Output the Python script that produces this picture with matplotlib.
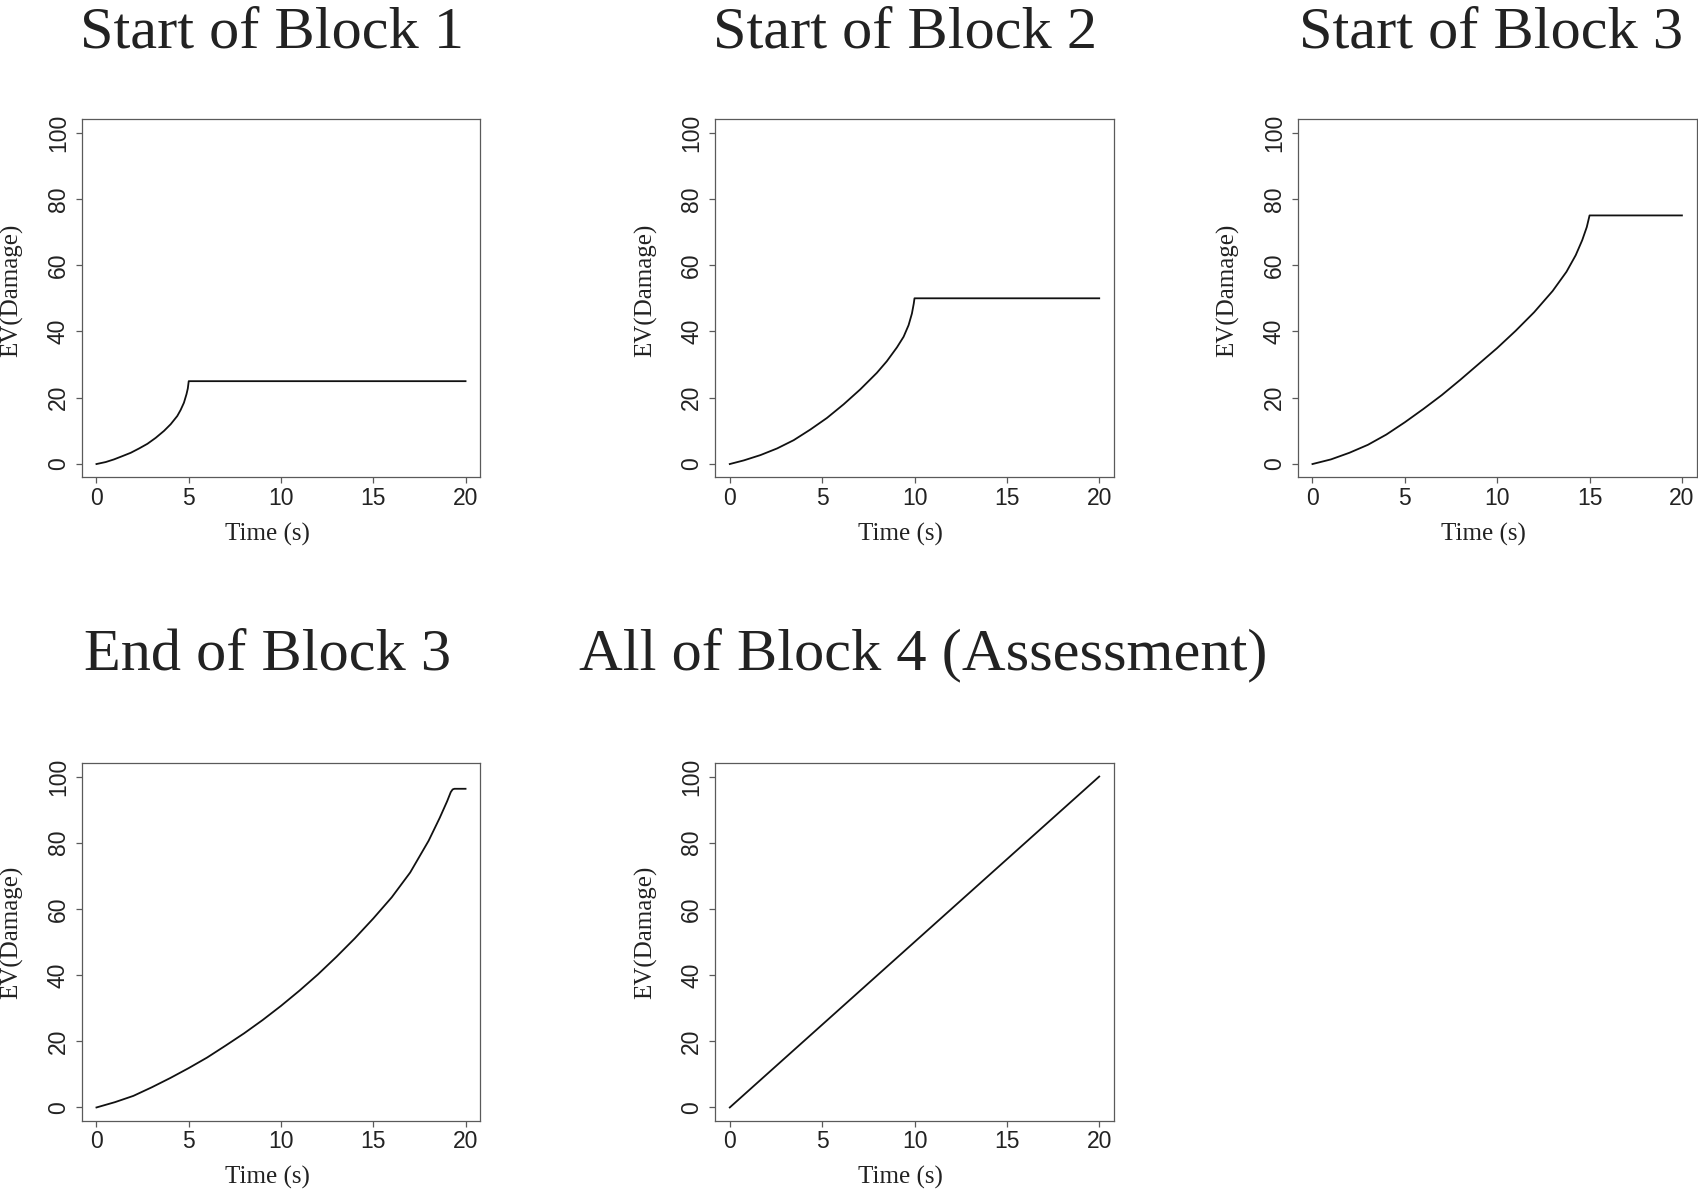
import matplotlib
matplotlib.use("Agg")
import matplotlib.pyplot as plt

# values (time in s, EV(Damage))
titles = ["Start of Block 1", "Start of Block 2", "Start of Block 3",
          "End of Block 3", "All of Block 4 (Assessment)"]

t_block1 = [0, 0.5, 0.95, 1.41, 1.86, 2.31, 2.76, 3.21, 3.66, 4.02, 4.38,
            4.56, 4.74, 4.88, 4.95, 5.0, 20]
ev_block1 = [0, 0.6, 1.4, 2.4, 3.4, 4.7, 6.1, 7.9, 10.0, 12.0, 14.5,
             16.3, 18.5, 21.1, 22.8, 25, 25]

t_block2 = [0, 0.76, 1.66, 2.56, 3.46, 4.36, 5.26, 6.16, 7.06, 7.96, 8.5,
            9.05, 9.41, 9.68, 9.86, 9.96, 10.0, 20]
ev_block2 = [0, 1.1, 2.7, 4.7, 7.2, 10.4, 13.9, 18.0, 22.5, 27.5, 31.0,
             35.2, 38.4, 41.9, 45.4, 48.4, 50, 50]

t_block3 = [0, 1, 2, 3, 4, 5, 6, 7, 8, 9, 10, 11, 12, 13, 13.75, 14.25,
            14.6, 14.85, 15, 20]
ev_block3 = [0, 1.4, 3.4, 5.8, 8.9, 12.6, 16.6, 20.8, 25.4, 30.2, 35.0, 40.2,
             45.8, 52.2, 58.0, 63.0, 67.5, 71.5, 75, 75]

t_end3 = [0, 1, 2, 3, 4, 5, 6, 7, 8, 9, 10, 11, 12, 13, 14, 15, 16, 17, 18,
          18.6, 19.0, 19.2, 19.3, 19.4, 20]
ev_end3 = [0, 1.6, 3.5, 6.1, 8.9, 11.9, 15.1, 18.7, 22.4, 26.4, 30.7, 35.3,
           40.2, 45.5, 51.1, 57.1, 63.5, 71.0, 80.6, 87.5, 92.5, 95.3, 96.1,
           96.3, 96.3]

t_block4 = [0, 20]
ev_block4 = [0, 100]

xticks = [0, 5, 10, 15, 20]
yticks = [0, 20, 40, 60, 80, 100]

W, H = 1698, 1190
serif = "Liberation Serif"
sans = "Liberation Sans"
box_col = "#5a5a5a"
txt_col = "#222222"

fig = plt.figure(figsize=(W / 100, H / 100), dpi=100)

# axes boxes in pixels: left, top, right, bottom
boxes = [(81.7, 119.3, 480.3, 477.3),
         (715, 119.3, 1114, 477.3),
         (1297.7, 119.3, 1696.7, 477.3),
         (81.7, 763.3, 480.3, 1120.7),
         (715, 763.3, 1114, 1120.7)]
series = [(t_block1, ev_block1), (t_block2, ev_block2), (t_block3, ev_block3),
          (t_end3, ev_end3), (t_block4, ev_block4)]
# title centre x and baseline y in pixels
title_pos = [(272, 48), (905, 48), (1491, 48), (267.5, 669), (923, 669)]
ylab_y = [0.521, 0.521, 0.521, 0.526, 0.526]

for i, ((l, t, r, b), (xs, ys), title, (tx, ty)) in enumerate(
        zip(boxes, series, titles, title_pos)):
    ax = fig.add_axes([l / W, 1 - b / H, (r - l) / W, (b - t) / H])
    ax.plot(xs, ys, color="#111111", lw=1.3, solid_joinstyle="round")
    ax.set_xlim(-0.8, 20.8)
    ax.set_ylim(-4, 104)
    ax.set_xticks(xticks)
    ax.set_yticks(yticks)
    for s in ax.spines.values():
        s.set_color(box_col)
        s.set_linewidth(0.9)
    ax.tick_params(direction="out", length=4.5, width=0.9, color=box_col,
                   labelcolor=txt_col, labelsize=16.5)
    ax.tick_params(axis="x", pad=2.5)
    ax.tick_params(axis="y", pad=4)
    for lab in ax.get_xticklabels() + ax.get_yticklabels():
        lab.set_fontfamily(sans)
    for lab in ax.get_yticklabels():
        lab.set_rotation(90)
        lab.set_va("center")
    ax.set_xlabel("Time (s)", fontfamily=serif, fontsize=18, color=txt_col)
    ax.set_ylabel("EV(Damage)", fontfamily=serif, fontsize=18, color=txt_col)
    ax.xaxis.set_label_coords(0.465, -0.126)
    ax.yaxis.set_label_coords(-0.146, ylab_y[i])
    fig.text(tx / W, 1 - ty / H, title, ha="center", va="baseline",
             fontfamily=serif, fontsize=43.5, color=txt_col)

fig.savefig("out.png", dpi=100, facecolor="white")
